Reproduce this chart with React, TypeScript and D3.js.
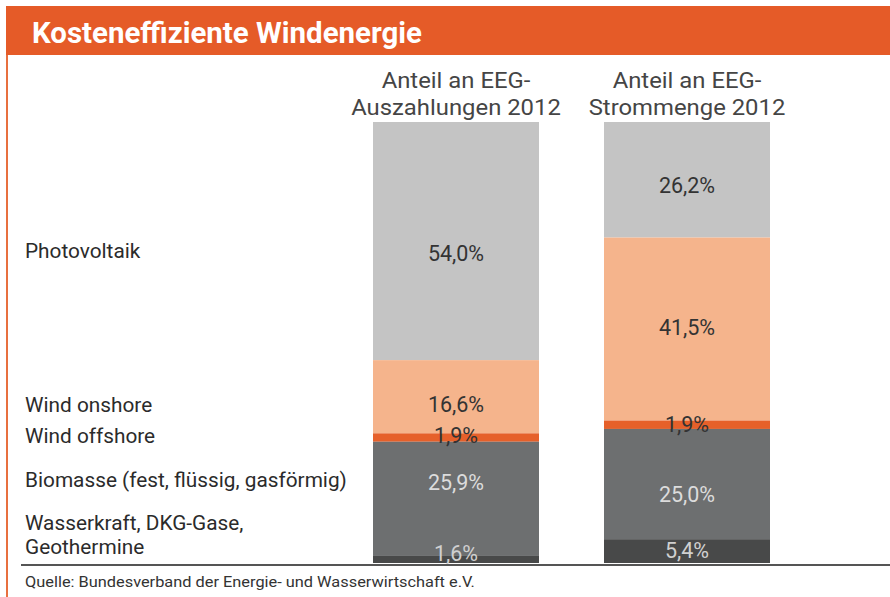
import React, { useEffect, useRef } from 'react';
import * as d3 from 'd3';

// Daten: Anteile in Prozent, von oben (Photovoltaik) nach unten
const categories = [
  "Photovoltaik",
  "Wind onshore",
  "Wind offshore",
  "Biomasse (fest, flüssig, gasförmig)",
  "Wasserkraft, DKG-Gase, Geothermine"
];
const categoryLines = [
  ["Photovoltaik"],
  ["Wind onshore"],
  ["Wind offshore"],
  ["Biomasse (fest, flüssig, gasförmig)"],
  ["Wasserkraft, DKG-Gase,", "Geothermine"]
];
const columns = ["Auszahlungen", "Strommenge"];
const columnTitles = [
  ["Anteil an EEG-", "Auszahlungen 2012"],
  ["Anteil an EEG-", "Strommenge 2012"]
];
const auszahlungen2012 = [54.0, 16.6, 1.9, 25.9, 1.6];
const strommenge2012 = [26.2, 41.5, 1.9, 25.0, 5.4];

const title = "Kosteneffiziente Windenergie";
const source = "Quelle: Bundesverband der Energie- und Wasserwirtschaft e.V.";

const W = 890;
const H = 597;

const App = () => {
  const svgRef = useRef(null);

  useEffect(() => {
    if (!svgRef.current) return;
    const svg = d3.select(svgRef.current);
    svg.selectAll("*").remove();

    const colors = ["#c4c4c4", "#f5b48c", "#e6602a", "#6d6f70", "#484949"];
    const textColors = ["#333", "#333", "#333", "#dcdcdc", "#d0d0d0"];
    const font = "Roboto, 'Noto Sans', sans-serif";

    // Feinjustierung der Beschriftungen gegenüber Segmentmitte (px)
    const labelNudge = [
      [12.5, 7.3, -2, -16, -6],
      [5.7, -1.5, 0, 10, -0.6]
    ];
    const legendNudge = [10, 7.8, -1.6, -18.5, -24.5];

    const rows = columns.map((c, i) => {
      const vals = i === 0 ? auszahlungen2012 : strommenge2012;
      const r: any = { column: c };
      categories.forEach((k, j) => (r[k] = vals[j]));
      return r;
    });

    const series = d3.stack()
      .keys(categories)
      .order(d3.stackOrderReverse)(rows);

    const x = d3.scaleBand()
      .domain(columns)
      .range([373, 770])
      .paddingInner(0.2814)
      .paddingOuter(0);

    const y = d3.scaleLinear()
      .domain([0, 100])
      .range([563, 122]);

    const de = d3.formatLocale({ decimal: ",", thousands: ".", grouping: [3], currency: ["", "€"] });
    const fmt = de.format(".1f");

    // Breite an die DIN-Schrift des Originals angleichen
    const stretch = (sel, factor) => {
      sel.each(function () {
        const len = this.getComputedTextLength();
        d3.select(this)
          .attr("textLength", len * factor)
          .attr("lengthAdjust", "spacingAndGlyphs");
      });
    };

    svg.append("rect")
      .attr("width", W)
      .attr("height", H)
      .attr("fill", "#fff");

    // Kopfzeile
    svg.append("rect")
      .attr("x", 6)
      .attr("y", 6)
      .attr("width", W - 6)
      .attr("height", 49)
      .attr("fill", "#e55b28");
    svg.append("rect")
      .attr("x", 6)
      .attr("y", 55)
      .attr("width", 2)
      .attr("height", H - 55)
      .attr("fill", "#e8703f");

    const titleText = svg.append("text")
      .attr("x", 32)
      .attr("y", 43)
      .attr("fill", "#fff")
      .attr("font-family", font)
      .attr("font-weight", "bold")
      .attr("font-size", 29)
      .text(title);
    stretch(titleText, 1.015);

    // Spaltenüberschriften
    columnTitles.forEach((lines, i) => {
      const cx = x(columns[i]) + x.bandwidth() / 2;
      lines.forEach((line, j) => {
        const t = svg.append("text")
          .attr("x", cx)
          .attr("y", 88 + j * 27)
          .attr("text-anchor", "middle")
          .attr("fill", "#454545")
          .attr("font-family", font)
          .attr("font-size", 22.5)
          .text(line);
        stretch(t, 1.06);
      });
    });

    // Balken
    const layer = svg.selectAll(".layer")
      .data(series)
      .join("g")
      .attr("class", "layer")
      .attr("fill", d => colors[categories.indexOf(d.key)]);

    layer.selectAll("rect")
      .data(d => d)
      .join("rect")
      .attr("x", d => x(d.data.column))
      .attr("y", d => y(d[1]))
      .attr("width", x.bandwidth())
      .attr("height", d => y(d[0]) - y(d[1]));

    // Werte
    series.forEach(s => {
      const ci = categories.indexOf(s.key);
      s.forEach((d, col) => {
        const cy = (y(d[0]) + y(d[1])) / 2 + labelNudge[col][ci];
        svg.append("text")
          .attr("x", x(d.data.column) + x.bandwidth() / 2)
          .attr("y", cy)
          .attr("dy", "0.355em")
          .attr("text-anchor", "middle")
          .attr("fill", textColors[ci])
          .attr("font-family", font)
          .attr("font-size", 21.5)
          .text(fmt(d[1] - d[0]) + "%");
      });
    });

    // Legende links
    const first = columns[0];
    series.forEach(s => {
      const ci = categories.indexOf(s.key);
      const d = s.find(v => v.data.column === first);
      const cy = (y(d[0]) + y(d[1])) / 2 + legendNudge[ci];
      const lines = categoryLines[ci];
      const lh = 24;
      lines.forEach((line, j) => {
        const t = svg.append("text")
          .attr("x", 25)
          .attr("y", cy + (j - (lines.length - 1) / 2) * lh)
          .attr("dy", "0.355em")
          .attr("fill", "#2b2b2b")
          .attr("font-family", font)
          .attr("font-size", 20)
          .text(line);
        stretch(t, 1.04);
      });
    });

    // Grundlinie
    svg.append("line")
      .attr("x1", 21)
      .attr("x2", W)
      .attr("y1", 565)
      .attr("y2", 565)
      .attr("stroke", "#555")
      .attr("stroke-width", 2);

    const src = svg.append("text")
      .attr("x", 25)
      .attr("y", 587)
      .attr("fill", "#333")
      .attr("font-family", font)
      .attr("font-size", 15)
      .text(source);
    stretch(src, 1.09);
  }, []);

  return (
    <svg
      ref={svgRef}
      width={W}
      height={H}
      style={{ position: "absolute", left: 0, top: 0, display: "block" }}
    />
  );
};

export default App;
